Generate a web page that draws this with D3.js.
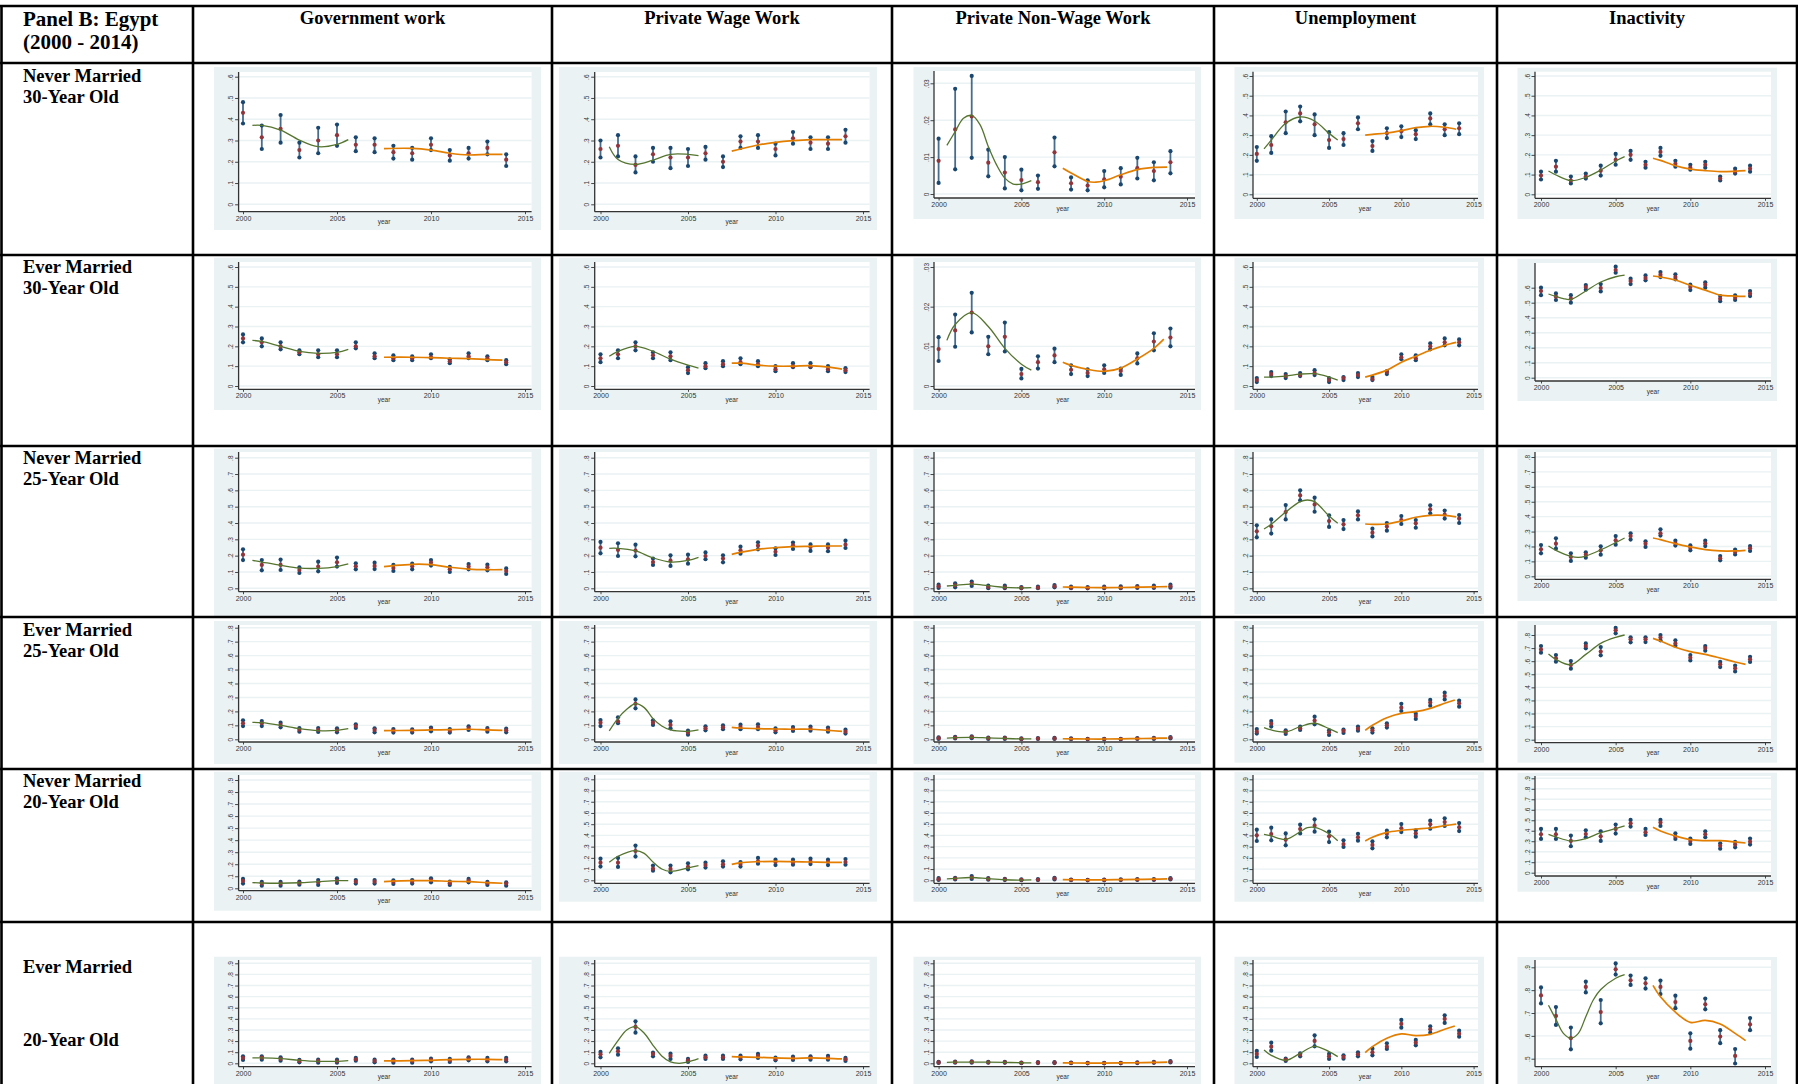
<!DOCTYPE html>
<html>
<head>
<meta charset="utf-8">
<script src="https://cdn.jsdelivr.net/npm/d3@7"></script>
<style>
body { margin: 0; background: #fff; }
svg { display: block; }
</style>
</head>
<body>
<svg id="chart" width="1798" height="1084"></svg>
<script>
// ---- labels ----
var colHeaders = ['Government work', 'Private Wage Work', 'Private Non-Wage Work', 'Unemployment', 'Inactivity'];
var rowLabels = [
    ['Never Married', '30-Year Old'],
    ['Ever Married', '30-Year Old'],
    ['Never Married', '25-Year Old'],
    ['Ever Married', '25-Year Old'],
    ['Never Married', '20-Year Old'],
    ['Ever Married', '20-Year Old']
];
var years = [2000, 2001, 2002, 2003, 2004, 2005, 2006, 2007, 2008, 2009, 2010, 2011, 2012, 2013, 2014];
var xTicks = [2000, 2005, 2010, 2015];
var yTicks06 = [0, .1, .2, .3, .4, .5, .6];
var yTicks003 = [0, .01, .02, .03];
var yTicks08 = [0, .1, .2, .3, .4, .5, .6, .7, .8];
var yTicks09 = [0, .1, .2, .3, .4, .5, .6, .7, .8, .9];
var yTicks59 = [.5, .6, .7, .8, .9];

// ---- data: [mean, lower, upper] per year; fits are [year, value] ----
// Never married, 30
var nm30Gov = [[.43,.38,.48],[.315,.26,.37],[.355,.29,.42],[.255,.22,.29],[.30,.24,.36],[.325,.275,.375],[.28,.25,.315],[.28,.245,.31],[.245,.215,.275],[.24,.21,.265],[.28,.255,.31],[.23,.205,.255],[.24,.215,.265],[.265,.235,.295],[.21,.18,.235]];
var nm30GovFit1 = [[2000.5,.371],[2001,.371],[2002,.349],[2003,.302],[2004,.271],[2005,.282],[2005.6,.304]];
var nm30GovFit2 = [[2007.5,.262],[2009,.263],[2010,.255],[2011,.24],[2012,.232],[2013,.235],[2013.8,.235]];
var nm30Pww = [[.26,.22,.30],[.275,.225,.325],[.185,.15,.225],[.235,.20,.265],[.22,.17,.265],[.22,.18,.26],[.24,.21,.27],[.20,.175,.225],[.295,.265,.32],[.295,.265,.325],[.26,.23,.285],[.31,.285,.34],[.29,.26,.315],[.285,.26,.315],[.32,.29,.35]];
var nm30PwwFit1 = [[2000.5,.271],[2001,.211],[2002,.188],[2003,.208],[2004,.235],[2005,.235],[2005.6,.229]];
var nm30PwwFit2 = [[2007.5,.25],[2008,.26],[2009,.279],[2010,.291],[2011,.299],[2012,.304],[2013,.304],[2013.8,.304]];
var nm30Pnw = [[.009,.003,.015],[.0175,.0067,.0285],[.021,.0098,.032],[.0085,.0048,.012],[.0058,.0015,.010],[.0038,.001,.0066],[.0032,.0014,.005],[.0113,.0075,.0153],[.0029,.0012,.0045],[.0023,.001,.0037],[.004,.0018,.0062],[.0047,.0026,.007],[.007,.0042,.0098],[.0062,.0037,.0086],[.0086,.0056,.0116]];
var nm30PnwFit1 = [[2000.5,.0132],[2001,.0169],[2001.5,.0205],[2002,.0213],[2002.5,.0188],[2003,.0129],[2003.5,.0079],[2004,.0043],[2004.5,.0027],[2005,.0027],[2005.6,.0036]];
var nm30PnwFit2 = [[2007.5,.007],[2008,.0057],[2009,.0034],[2009.5,.0032],[2010,.0036],[2011,.0052],[2012,.0066],[2013,.0072],[2013.8,.0073]];
var nm30Une = [[.205,.17,.24],[.25,.21,.295],[.365,.31,.42],[.41,.37,.445],[.355,.30,.405],[.275,.235,.315],[.28,.25,.31],[.36,.33,.39],[.245,.22,.27],[.31,.285,.335],[.32,.29,.345],[.305,.28,.325],[.385,.355,.41],[.33,.30,.355],[.335,.305,.36]];
var nm30UneFit1 = [[2000.5,.23],[2001,.275],[2002,.36],[2003,.392],[2004,.372],[2005,.309],[2005.6,.275]];
var nm30UneFit2 = [[2007.5,.30],[2008,.304],[2009,.311],[2010,.323],[2011,.338],[2012,.345],[2013,.34],[2013.8,.33]];
var nm30Ina = [[.095,.075,.115],[.14,.115,.17],[.07,.055,.09],[.09,.08,.105],[.12,.095,.145],[.175,.15,.205],[.20,.175,.22],[.15,.135,.165],[.215,.195,.235],[.155,.14,.17],[.135,.125,.15],[.15,.135,.165],[.08,.07,.09],[.115,.105,.13],[.13,.115,.145]];
var nm30InaFit1 = [[2000.5,.118],[2001,.098],[2002,.069],[2003,.086],[2004,.123],[2005,.169],[2005.6,.191]];
var nm30InaFit2 = [[2007.5,.183],[2008,.172],[2009,.145],[2010,.128],[2011,.12],[2012,.115],[2013,.117],[2013.7,.12]];

// Ever married, 30
var em30Gov = [[.24,.22,.26],[.22,.20,.24],[.20,.185,.22],[.17,.16,.18],[.16,.145,.18],[.16,.145,.18],[.20,.19,.22],[.15,.14,.165],[.14,.13,.155],[.14,.13,.15],[.145,.14,.16],[.125,.115,.135],[.15,.14,.165],[.14,.13,.15],[.12,.11,.13]];
var em30GovFit1 = [[2000.5,.23],[2001,.225],[2002,.20],[2003,.175],[2004,.165],[2005,.17],[2005.6,.185]];
var em30GovFit2 = [[2007.5,.145],[2009,.145],[2010,.143],[2011,.14],[2012,.138],[2013,.133],[2013.8,.13]];
var em30Pww = [[.14,.12,.16],[.16,.14,.18],[.20,.18,.22],[.155,.14,.17],[.15,.13,.17],[.08,.065,.095],[.10,.09,.115],[.11,.10,.125],[.12,.11,.14],[.11,.10,.125],[.085,.075,.10],[.10,.095,.115],[.10,.095,.115],[.085,.075,.10],[.08,.07,.09]];
var em30PwwFit1 = [[2000.5,.15],[2001,.175],[2002,.20],[2003,.175],[2004,.135],[2005,.105],[2005.6,.09]];
var em30PwwFit2 = [[2007.5,.115],[2008,.115],[2009,.105],[2010,.10],[2011,.10],[2012,.103],[2013,.095],[2013.8,.085]];
var em30Pnw = [[.0093,.0063,.0123],[.014,.0099,.018],[.0185,.0135,.0235],[.010,.008,.0124],[.0124,.0087,.016],[.003,.0019,.0043],[.006,.0044,.0075],[.0077,.006,.0094],[.0041,.003,.0052],[.0033,.0025,.0042],[.0042,.0033,.0052],[.0038,.0028,.0044],[.007,.0057,.0082],[.0112,.009,.0133],[.0122,.010,.0145]];
var em30PnwFit1 = [[2000.5,.0115],[2001,.0155],[2002,.0185],[2003,.015],[2004,.0095],[2005,.0055],[2005.6,.004]];
var em30PnwFit2 = [[2007.5,.006],[2008,.0052],[2009,.0042],[2010,.0037],[2011,.0045],[2012,.0068],[2013,.0095],[2013.6,.0118]];
var em30Une = [[.03,.02,.04],[.06,.05,.07],[.05,.04,.06],[.055,.05,.065],[.065,.055,.08],[.03,.02,.04],[.04,.03,.045],[.055,.045,.065],[.035,.03,.045],[.07,.06,.075],[.145,.135,.16],[.14,.13,.155],[.20,.185,.215],[.22,.205,.24],[.22,.205,.235]];
var em30UneFit1 = [[2000.5,.045],[2001,.045],[2002,.05],[2003,.06],[2004,.062],[2005,.045],[2005.6,.03]];
var em30UneFit2 = [[2007.5,.045],[2009,.08],[2010,.12],[2011,.15],[2012,.18],[2013,.205],[2013.8,.22]];
var em30Ina = [[.578,.55,.60],[.54,.518,.562],[.527,.50,.55],[.604,.587,.618],[.598,.575,.624],[.718,.70,.74],[.644,.624,.66],[.664,.649,.682],[.687,.671,.704],[.671,.656,.689],[.604,.584,.62],[.62,.60,.636],[.527,.51,.544],[.533,.518,.549],[.56,.544,.578]];
var em30InaFit1 = [[2000.5,.558],[2001,.542],[2001.5,.527],[2002,.522],[2003,.578],[2004,.638],[2005,.673],[2005.6,.684]];
var em30InaFit2 = [[2007.5,.678],[2008,.671],[2009,.651],[2010,.616],[2011,.584],[2012,.551],[2013,.544],[2013.7,.542]];

// Never married, 25
var nm25Gov = [[.206,.173,.239],[.143,.11,.173],[.143,.112,.176],[.112,.094,.129],[.133,.104,.163],[.159,.133,.188],[.135,.116,.153],[.137,.118,.157],[.124,.106,.143],[.135,.116,.151],[.157,.139,.173],[.116,.10,.131],[.133,.116,.149],[.129,.11,.145],[.106,.088,.122]];
var nm25GovFit1 = [[2000.5,.171],[2001,.161],[2002,.141],[2003,.124],[2004,.122],[2005,.133],[2005.6,.149]];
var nm25GovFit2 = [[2007.5,.133],[2008,.139],[2009,.147],[2010,.145],[2011,.129],[2012,.118],[2013,.114],[2013.8,.114]];
var nm25Pww = [[.249,.214,.284],[.235,.198,.276],[.231,.196,.267],[.161,.143,.182],[.169,.137,.202],[.178,.151,.206],[.198,.178,.22],[.182,.159,.202],[.233,.212,.255],[.261,.239,.282],[.224,.204,.245],[.263,.241,.28],[.253,.229,.269],[.249,.227,.269],[.267,.247,.292]];
var nm25PwwFit1 = [[2000.5,.245],[2001,.245],[2002,.229],[2003,.186],[2004,.161],[2005,.171],[2005.6,.19]];
var nm25PwwFit2 = [[2007.5,.208],[2008,.22],[2009,.239],[2010,.249],[2011,.255],[2012,.257],[2013,.259],[2013.8,.259]];
var nm25Pnw = [[.012,.002,.022],[.018,.006,.031],[.029,.014,.041],[.008,.001,.016],[.006,.001,.016],[.002,0,.008],[.004,.001,.01],[.012,.006,.02],[.004,.001,.01],[.002,0,.008],[.004,.001,.01],[.004,.001,.012],[.008,.002,.014],[.008,.002,.016],[.012,.004,.022]];
var nm25PnwFit1 = [[2000.5,.014],[2001,.018],[2002,.025],[2003,.016],[2004,.006],[2005,.003],[2005.6,.004]];
var nm25PnwFit2 = [[2007.5,.008],[2008,.007],[2009,.005],[2010,.004],[2011,.005],[2012,.007],[2013,.009],[2013.8,.01]];
var nm25Une = [[.349,.312,.386],[.38,.335,.422],[.467,.422,.51],[.569,.539,.60],[.514,.469,.555],[.412,.376,.447],[.392,.363,.418],[.447,.422,.471],[.341,.318,.365],[.378,.353,.40],[.418,.394,.443],[.398,.371,.418],[.484,.459,.508],[.451,.427,.476],[.427,.40,.449]];
var nm25UneFit1 = [[2000.5,.363],[2001,.392],[2002,.467],[2003,.531],[2003.5,.541],[2004,.531],[2005,.443],[2005.6,.398]];
var nm25UneFit2 = [[2007.5,.394],[2008,.392],[2009,.394],[2010,.412],[2011,.435],[2012,.447],[2013,.447],[2013.8,.437]];
var nm25Ina = [[.181,.154,.21],[.219,.185,.255],[.13,.103,.154],[.145,.125,.161],[.174,.145,.201],[.241,.212,.27],[.27,.246,.288],[.219,.197,.235],[.288,.273,.315],[.221,.206,.239],[.192,.174,.208],[.221,.203,.239],[.121,.107,.136],[.163,.147,.179],[.188,.17,.203]];
var nm25InaFit1 = [[2000.5,.203],[2001,.174],[2002,.134],[2002.5,.127],[2003,.136],[2004,.177],[2005,.226],[2005.6,.257]];
var nm25InaFit2 = [[2007.5,.257],[2008,.246],[2009,.219],[2010,.197],[2011,.179],[2012,.17],[2013,.17],[2013.7,.174]];

// Ever married, 25
var em25Gov = [[.115,.095,.136],[.115,.095,.131],[.103,.086,.119],[.069,.055,.081],[.067,.053,.081],[.064,.05,.079],[.095,.081,.107],[.067,.05,.079],[.062,.048,.074],[.062,.048,.072],[.072,.057,.084],[.062,.048,.074],[.081,.067,.093],[.069,.055,.081],[.064,.05,.076]];
var em25GovFit1 = [[2000.5,.122],[2001,.119],[2002,.10],[2003,.076],[2004,.062],[2005,.064],[2005.6,.076]];
var em25GovFit2 = [[2007.5,.062],[2009,.064],[2010,.067],[2011,.069],[2012,.072],[2013,.067],[2013.8,.064]];
var em25Pww = [[.119,.095,.138],[.129,.115,.158],[.255,.222,.286],[.119,.103,.136],[.103,.079,.129],[.048,.033,.062],[.079,.064,.093],[.086,.072,.10],[.088,.072,.105],[.088,.072,.107],[.064,.05,.079],[.074,.06,.088],[.076,.062,.091],[.069,.055,.084],[.055,.041,.069]];
var em25PwwFit1 = [[2000.5,.06],[2001,.15],[2001.5,.215],[2002,.255],[2002.5,.227],[2003,.148],[2003.5,.095],[2004,.067],[2005,.057],[2005.6,.067]];
var em25PwwFit2 = [[2007.5,.086],[2008,.081],[2009,.076],[2010,.074],[2011,.072],[2012,.072],[2013,.064],[2013.8,.057]];
var em25Pnw = [[.008,.002,.014],[.012,.006,.018],[.015,.008,.022],[.008,.003,.013],[.008,.003,.013],[.003,.001,.006],[.005,.002,.009],[.006,.002,.01],[.004,.001,.007],[.002,0,.004],[.002,0,.004],[.002,0,.004],[.005,.002,.009],[.007,.003,.011],[.011,.006,.016]];
var em25PnwFit1 = [[2000.5,.009],[2001,.012],[2002,.014],[2003,.01],[2004,.006],[2005,.003],[2005.6,.003]];
var em25PnwFit2 = [[2007.5,.004],[2009,.002],[2010,.002],[2011,.003],[2012,.005],[2013,.007],[2013.8,.009]];
var em25Une = [[.055,.041,.074],[.112,.091,.131],[.053,.038,.064],[.079,.067,.091],[.134,.107,.162],[.05,.031,.064],[.06,.045,.069],[.076,.062,.091],[.064,.048,.079],[.10,.084,.115],[.227,.203,.255],[.167,.146,.184],[.263,.241,.282],[.31,.286,.334],[.258,.234,.277]];
var em25UneFit1 = [[2000.5,.084],[2001,.067],[2002,.053],[2003,.091],[2004,.115],[2005,.076],[2005.6,.048]];
var em25UneFit2 = [[2007.5,.064],[2008,.10],[2009,.155],[2010,.186],[2011,.198],[2012,.222],[2013,.258],[2013.7,.282]];
var em25Ina = [[.69,.665,.716],[.622,.596,.647],[.571,.543,.601],[.716,.698,.736],[.673,.645,.708],[.836,.813,.854],[.767,.744,.782],[.767,.746,.782],[.78,.759,.80],[.736,.718,.759],[.627,.606,.647],[.70,.68,.716],[.576,.555,.594],[.545,.522,.566],[.614,.594,.634]];
var em25InaFit1 = [[2000.5,.655],[2001,.614],[2002,.573],[2003,.652],[2004,.736],[2005,.782],[2005.6,.80]];
var em25InaFit2 = [[2007.5,.774],[2008,.754],[2009,.706],[2010,.673],[2011,.652],[2012,.624],[2013,.594],[2013.7,.576]];

// Never married, 20
var nm20Gov = [[.061,.039,.078],[.039,.022,.053],[.039,.022,.053],[.044,.03,.055],[.05,.028,.069],[.064,.044,.083],[.055,.039,.069],[.055,.039,.069],[.053,.036,.066],[.055,.039,.069],[.066,.05,.083],[.042,.028,.055],[.064,.05,.078],[.042,.028,.053],[.039,.022,.05]];
var nm20GovFit1 = [[2000.5,.048],[2001,.044],[2002,.042],[2003,.046],[2004,.055],[2005,.063],[2005.6,.064]];
var nm20GovFit2 = [[2007.5,.055],[2009,.063],[2010,.064],[2011,.058],[2012,.055],[2013,.047],[2013.8,.042]];
var nm20Pww = [[.157,.122,.193],[.157,.119,.199],[.261,.211,.309],[.104,.086,.131],[.101,.071,.131],[.119,.098,.151],[.136,.113,.157],[.142,.122,.169],[.145,.122,.163],[.169,.148,.199],[.163,.136,.184],[.16,.139,.184],[.166,.145,.193],[.163,.136,.184],[.163,.139,.19]];
var nm20PwwFit1 = [[2000.5,.16],[2001,.214],[2002,.264],[2002.5,.24],[2003,.163],[2003.5,.101],[2004,.08],[2005,.11],[2005.6,.131]];
var nm20PwwFit2 = [[2007.5,.142],[2008,.157],[2009,.166],[2010,.169],[2011,.166],[2012,.163],[2013,.16],[2013.8,.16]];
var nm20Pnw = [[.01,.003,.02],[.015,.008,.022],[.025,.012,.038],[.012,.005,.02],[.008,.002,.014],[.004,.001,.008],[.005,.002,.01],[.015,.008,.022],[.004,.001,.007],[.002,0,.005],[.003,0,.007],[.005,.002,.009],[.007,.003,.011],[.007,.003,.011],[.013,.007,.019]];
var nm20PnwFit1 = [[2000.5,.012],[2001,.018],[2002,.025],[2003,.014],[2004,.005],[2005,.002],[2005.6,.003]];
var nm20PnwFit2 = [[2007.5,.006],[2009,.004],[2010,.004],[2011,.006],[2012,.008],[2013,.01],[2013.8,.012]];
var nm20Une = [[.401,.35,.451],[.412,.356,.469],[.362,.312,.418],[.457,.418,.496],[.487,.433,.543],[.392,.341,.433],[.323,.297,.356],[.383,.353,.415],[.315,.285,.347],[.415,.383,.442],[.463,.43,.501],[.418,.389,.445],[.499,.46,.531],[.519,.484,.552],[.472,.439,.51]];
var nm20UneFit1 = [[2000.5,.41],[2001,.395],[2002,.365],[2003,.433],[2003.5,.469],[2004,.472],[2005,.415],[2005.6,.353]];
var nm20UneFit2 = [[2007.5,.35],[2008,.383],[2009,.427],[2010,.445],[2011,.457],[2012,.466],[2013,.487],[2013.8,.501]];
var nm20Ina = [[.366,.322,.417],[.366,.322,.417],[.303,.252,.354],[.369,.338,.404],[.347,.303,.395],[.417,.373,.459],[.471,.44,.503],[.385,.36,.417],[.478,.446,.503],[.344,.322,.376],[.303,.274,.325],[.366,.338,.395],[.258,.229,.28],[.268,.242,.293],[.296,.268,.325]];
var nm20InaFit1 = [[2000.5,.366],[2001,.341],[2002,.303],[2003,.325],[2004,.382],[2005,.42],[2005.6,.446]];
var nm20InaFit2 = [[2007.5,.433],[2008,.398],[2009,.35],[2010,.315],[2011,.306],[2012,.306],[2013,.293],[2013.7,.283]];

// Ever married, 20
var em20Gov = [[.048,.03,.063],[.051,.033,.063],[.039,.024,.054],[.021,.009,.03],[.021,.006,.033],[.018,.006,.033],[.036,.024,.048],[.021,.009,.033],[.021,.006,.033],[.021,.006,.033],[.03,.018,.042],[.027,.012,.039],[.042,.027,.054],[.033,.018,.048],[.033,.018,.048]];
var em20GovFit1 = [[2000.5,.048],[2001,.048],[2002,.042],[2003,.027],[2004,.018],[2005,.018],[2005.6,.024]];
var em20GovFit2 = [[2007.5,.021],[2009,.024],[2010,.027],[2011,.033],[2012,.036],[2013,.036],[2013.8,.033]];
var em20Pww = [[.081,.054,.102],[.108,.078,.135],[.327,.276,.378],[.084,.063,.096],[.066,.039,.087],[.027,.012,.039],[.054,.039,.069],[.054,.039,.069],[.054,.036,.069],[.066,.048,.084],[.039,.027,.051],[.045,.03,.06],[.048,.033,.063],[.048,.033,.066],[.036,.021,.048]];
var em20PwwFit1 = [[2000.5,.09],[2001,.204],[2001.5,.30],[2002,.33],[2002.5,.27],[2003,.162],[2003.5,.066],[2004,.012],[2004.5,0],[2005,.012],[2005.6,.042]];
var em20PwwFit2 = [[2007.5,.06],[2008,.057],[2009,.054],[2010,.048],[2011,.045],[2012,.048],[2013,.045],[2013.8,.039]];
var em20Pnw = [[.008,.003,.013],[.01,.005,.015],[.012,.006,.018],[.009,.005,.013],[.009,.004,.014],[.004,.001,.007],[.006,.002,.01],[.006,.002,.01],[.004,.001,.007],[.002,0,.004],[.001,0,.003],[.002,0,.004],[.005,.002,.008],[.008,.004,.012],[.014,.008,.02]];
var em20PnwFit1 = [[2000.5,.009],[2001,.01],[2002,.011],[2003,.01],[2004,.008],[2005,.005],[2005.6,.004]];
var em20PnwFit2 = [[2007.5,.004],[2009,.002],[2010,.002],[2011,.003],[2012,.005],[2013,.008],[2013.8,.01]];
var em20Une = [[.084,.057,.111],[.15,.114,.186],[.033,.021,.042],[.078,.063,.09],[.201,.153,.252],[.063,.039,.084],[.057,.042,.072],[.081,.063,.099],[.099,.072,.132],[.15,.129,.18],[.354,.321,.39],[.186,.162,.21],[.306,.276,.333],[.399,.363,.432],[.267,.24,.294]];
var em20UneFit1 = [[2000.5,.12],[2001,.072],[2002,.027],[2003,.09],[2004,.153],[2005,.105],[2005.6,.06]];
var em20UneFit2 = [[2007.5,.096],[2008,.15],[2009,.225],[2010,.264],[2011,.249],[2012,.261],[2013,.306],[2013.7,.336]];
var em20Ina = [[.777,.742,.812],[.687,.648,.726],[.59,.541,.636],[.814,.79,.837],[.704,.655,.757],[.891,.868,.917],[.843,.823,.864],[.83,.807,.852],[.814,.783,.842],[.748,.721,.776],[.578,.544,.611],[.738,.716,.763],[.597,.568,.625],[.512,.479,.542],[.65,.625,.678]];
var em20InaFit1 = [[2000.5,.734],[2001,.672],[2001.5,.611],[2002,.59],[2002.5,.611],[2003,.684],[2003.5,.757],[2004,.803],[2005,.852],[2005.6,.868]];
var em20InaFit2 = [[2007.5,.821],[2008,.771],[2009,.704],[2010,.659],[2011,.668],[2012,.652],[2013,.611],[2013.7,.579]];

// ---- grid of panels, built from the arrays above ----
var panels = [
    [[nm30Gov, nm30GovFit1, nm30GovFit2, yTicks06], [nm30Pww, nm30PwwFit1, nm30PwwFit2, yTicks06], [nm30Pnw, nm30PnwFit1, nm30PnwFit2, yTicks003], [nm30Une, nm30UneFit1, nm30UneFit2, yTicks06], [nm30Ina, nm30InaFit1, nm30InaFit2, yTicks06]],
    [[em30Gov, em30GovFit1, em30GovFit2, yTicks06], [em30Pww, em30PwwFit1, em30PwwFit2, yTicks06], [em30Pnw, em30PnwFit1, em30PnwFit2, yTicks003], [em30Une, em30UneFit1, em30UneFit2, yTicks06], [em30Ina, em30InaFit1, em30InaFit2, yTicks06]],
    [[nm25Gov, nm25GovFit1, nm25GovFit2, yTicks08], [nm25Pww, nm25PwwFit1, nm25PwwFit2, yTicks08], [nm25Pnw, nm25PnwFit1, nm25PnwFit2, yTicks08], [nm25Une, nm25UneFit1, nm25UneFit2, yTicks08], [nm25Ina, nm25InaFit1, nm25InaFit2, yTicks08]],
    [[em25Gov, em25GovFit1, em25GovFit2, yTicks08], [em25Pww, em25PwwFit1, em25PwwFit2, yTicks08], [em25Pnw, em25PnwFit1, em25PnwFit2, yTicks08], [em25Une, em25UneFit1, em25UneFit2, yTicks08], [em25Ina, em25InaFit1, em25InaFit2, yTicks08]],
    [[nm20Gov, nm20GovFit1, nm20GovFit2, yTicks09], [nm20Pww, nm20PwwFit1, nm20PwwFit2, yTicks09], [nm20Pnw, nm20PnwFit1, nm20PnwFit2, yTicks09], [nm20Une, nm20UneFit1, nm20UneFit2, yTicks09], [nm20Ina, nm20InaFit1, nm20InaFit2, yTicks09]],
    [[em20Gov, em20GovFit1, em20GovFit2, yTicks09], [em20Pww, em20PwwFit1, em20PwwFit2, yTicks09], [em20Pnw, em20PnwFit1, em20PnwFit2, yTicks09], [em20Une, em20UneFit1, em20UneFit2, yTicks09], [em20Ina, em20InaFit1, em20InaFit2, yTicks59]]
];

// ---- layout ----
var W = 1798, H = 1084;
var colBorders = [1.5, 193, 552, 892, 1214, 1497, 1797];
var rowBorders = [6, 63, 255, 446, 617, 769, 922];
var rowLabelBase = [81.7, 273, 463.5, 635.5, 787, 973];

// horizontal geometry of a panel in each column
var colGeom = [
    {bx0: 214, bx1: 541, ax: 238.6, x0: 243, x1: 525, wr: 531.6},
    {bx0: 559, bx1: 877, ax: 594.7, x0: 600.5, x1: 863, wr: 869.6},
    {bx0: 913.5, bx1: 1201, ax: 934, x0: 938.6, x1: 1187, wr: 1195},
    {bx0: 1234.5, bx1: 1484, ax: 1253, x0: 1256.8, x1: 1473.6, wr: 1478},
    {bx0: 1517.5, bx1: 1777, ax: 1535, x0: 1541, x1: 1765, wr: 1771}
];

// vertical geometry: bg top/bottom, plot top, x-axis, pixel of first tick, pixel of last tick
function rg(by0, by1, wt, xa, yb, yt) {
    return {by0: by0, by1: by1, wt: wt, xa: xa, yb: yb, yt: yt};
}
var rowGeom = [
    [rg(67, 230, 72, 211.7, 204.3, 76.7), rg(67, 230, 72, 211.7, 204.3, 76.7), rg(67, 219, 71, 198, 194, 83.3), rg(67, 219, 71.7, 198.3, 194.3, 76), rg(67.7, 219, 71.7, 198.3, 194.3, 76)],
    [rg(257.7, 410, 262, 389.3, 386, 267), rg(257.7, 410, 262, 389.3, 386, 267), rg(257.7, 410, 262, 389.3, 386, 267), rg(257.7, 410, 262, 389.3, 386, 267), rg(258.7, 401, 263, 381, 377.7, 287.7)],
    [rg(448.7, 616, 452, 591.7, 588.3, 457.7), rg(448.7, 616, 452, 591.7, 588.3, 457.7), rg(448.7, 616, 452, 591.7, 588.3, 457.7), rg(448.7, 614, 452, 591.7, 588.3, 457.7), rg(448.7, 601, 452, 579.3, 576.3, 457)],
    [rg(621, 764, 625, 742, 739.3, 627.7), rg(621, 764, 625, 742, 739.3, 627.7), rg(621, 764, 625, 742, 739.3, 627.7), rg(621, 762.7, 625, 742, 739.3, 627.7), rg(621, 762.7, 625, 742.7, 739.7, 635)],
    [rg(771.7, 910.7, 775, 890.7, 888.3, 780), rg(771.7, 901.7, 775, 883.3, 880.3, 779.3), rg(771.7, 901.7, 775, 883.3, 880.3, 779.3), rg(771.7, 901.7, 775, 883.3, 880.3, 779.3), rg(772.7, 891.7, 776, 876, 872.7, 778.3)],
    [rg(956.7, 1090, 960, 1066.7, 1063.3, 963.3), rg(956.7, 1090, 960, 1066.7, 1063.3, 963.3), rg(956.7, 1090, 960, 1066.7, 1063.3, 963.3), rg(956.7, 1090, 960, 1066.7, 1063.3, 963.3), rg(957, 1090, 960, 1066.7, 1058.7, 967.3)]
];

var NAVY = '#1a476f', MAROON = '#90353b', GREEN = '#55752f', ORANGE = '#e37e00';
var BG = '#eaf2f3';
var SERIF = '"Liberation Serif", "Times New Roman", serif';
var SANS = '"Liberation Sans", Arial, sans-serif';

var svg = d3.select('#chart');

function fmtTick(v) {
    if(v === 0) return '0';
    return d3.format('.2~f')(v).replace(/^0\./, '.');
}

function drawPanel(g, pts, fit1, fit2, yTicks, cg, rgm) {
    var x = d3.scaleLinear().domain([2000, 2015]).range([cg.x0, cg.x1]);
    var y = d3.scaleLinear().domain([yTicks[0], yTicks[yTicks.length - 1]]).range([rgm.yb, rgm.yt]);

    g.append('rect')
        .attr('x', cg.bx0).attr('y', rgm.by0)
        .attr('width', cg.bx1 - cg.bx0).attr('height', rgm.by1 - rgm.by0)
        .attr('fill', BG);

    g.append('rect')
        .attr('x', cg.ax).attr('y', rgm.wt)
        .attr('width', cg.wr - cg.ax).attr('height', rgm.xa - rgm.wt)
        .attr('fill', '#fff');

    // gridlines
    g.selectAll('line.grid').data(yTicks).enter().append('line')
        .attr('class', 'grid')
        .attr('x1', cg.ax).attr('x2', cg.wr)
        .attr('y1', function(d) { return y(d); })
        .attr('y2', function(d) { return y(d); })
        .attr('stroke', BG).attr('stroke-width', 1.4);

    // y axis
    var yAxis = d3.axisLeft(y).tickValues(yTicks).tickSize(3.5).tickSizeOuter(0).tickFormat(fmtTick);
    var yg = g.append('g').attr('transform', 'translate(' + cg.ax + ',0)').call(yAxis);
    yg.select('.domain').remove();
    yg.attr('font-family', SANS).attr('font-size', 6.5);
    yg.selectAll('line').attr('stroke', '#333').attr('stroke-width', 0.9);
    yg.selectAll('text')
        .attr('x', null).attr('dy', null)
        .attr('fill', '#333')
        .attr('text-anchor', 'middle')
        .attr('transform', 'translate(-5.5,0) rotate(-90)');

    // x axis
    var xAxis = d3.axisBottom(x).tickValues(xTicks).tickSize(2.5).tickPadding(1.5).tickSizeOuter(0).tickFormat(d3.format('d'));
    var xg = g.append('g').attr('transform', 'translate(0,' + rgm.xa + ')').call(xAxis);
    xg.select('.domain').remove();
    xg.attr('font-family', SANS).attr('font-size', 7);
    xg.selectAll('line').attr('stroke', '#333').attr('stroke-width', 0.9);
    xg.selectAll('text').attr('fill', '#333');

    g.append('line')
        .attr('x1', cg.ax).attr('x2', cg.ax)
        .attr('y1', rgm.wt).attr('y2', rgm.xa)
        .attr('stroke', '#333').attr('stroke-width', 1.3);
    g.append('line')
        .attr('x1', cg.ax).attr('x2', cg.wr)
        .attr('y1', rgm.xa).attr('y2', rgm.xa)
        .attr('stroke', '#333').attr('stroke-width', 1.3);

    g.append('text')
        .attr('x', (cg.x0 + cg.x1) / 2).attr('y', rgm.xa + 12.5)
        .attr('text-anchor', 'middle')
        .attr('font-family', SANS).attr('font-size', 6.5)
        .attr('fill', '#333')
        .text('year');

    // confidence intervals
    var ci = g.append('g');
    ci.selectAll('line').data(pts).enter().append('line')
        .attr('x1', function(d, i) { return x(years[i]); })
        .attr('x2', function(d, i) { return x(years[i]); })
        .attr('y1', function(d) { return y(d[1]); })
        .attr('y2', function(d) { return y(d[2]); })
        .attr('stroke', NAVY).attr('stroke-opacity', 0.8).attr('stroke-width', 1.8);
    [1, 2].forEach(function(k) {
        ci.selectAll('circle.e' + k).data(pts).enter().append('circle')
            .attr('class', 'e' + k)
            .attr('cx', function(d, i) { return x(years[i]); })
            .attr('cy', function(d) { return y(d[k]); })
            .attr('r', 2.1)
            .attr('fill', NAVY);
    });

    // smoothed fits
    var line = d3.line()
        .x(function(d) { return x(d[0]); })
        .y(function(d) { return y(d[1]); })
        .curve(d3.curveCatmullRom.alpha(0.5));
    g.append('path').attr('d', line(fit1))
        .attr('fill', 'none').attr('stroke', GREEN).attr('stroke-width', 1.3);
    g.append('path').attr('d', line(fit2))
        .attr('fill', 'none').attr('stroke', ORANGE).attr('stroke-width', 1.7);

    // means
    ci.selectAll('circle.m').data(pts).enter().append('circle')
        .attr('class', 'm')
        .attr('cx', function(d, i) { return x(years[i]); })
        .attr('cy', function(d) { return y(d[0]); })
        .attr('r', 2.1)
        .attr('fill', MAROON);
}

panels.forEach(function(row, r) {
    row.forEach(function(p, c) {
        var g = svg.append('g').attr('class', 'panel');
        drawPanel(g, p[0], p[1], p[2], p[3], colGeom[c], rowGeom[r][c]);
    });
});

// ---- table text ----
var txt = svg.append('g')
    .attr('font-family', SERIF)
    .attr('font-weight', 'bold')
    .attr('fill', '#000');

txt.append('text').attr('x', 23).attr('y', 26).attr('font-size', 21).text('Panel B: Egypt');
txt.append('text').attr('x', 23).attr('y', 48.5).attr('font-size', 21).text('(2000 - 2014)');

txt.selectAll('text.colhead').data(colHeaders).enter().append('text')
    .attr('class', 'colhead')
    .attr('x', function(d, i) { return (colBorders[i + 1] + colBorders[i + 2]) / 2; })
    .attr('y', 24)
    .attr('text-anchor', 'middle')
    .attr('font-size', 18.5)
    .text(function(d) { return d; });

rowLabels.forEach(function(lbl, r) {
    var b = rowLabelBase[r];
    var gap = (r === rowLabels.length - 1) ? 73 : 21;
    txt.append('text').attr('x', 23).attr('y', b).attr('font-size', 18.5).text(lbl[0]);
    txt.append('text').attr('x', 23).attr('y', b + gap).attr('font-size', 18.5).text(lbl[1]);
});

// ---- table rules ----
var rules = svg.append('g').attr('stroke', '#000').attr('stroke-width', 2.6);
rules.selectAll('line.h').data(rowBorders).enter().append('line')
    .attr('class', 'h')
    .attr('x1', 0).attr('x2', W)
    .attr('y1', function(d) { return d; }).attr('y2', function(d) { return d; });
rules.selectAll('line.v').data(colBorders).enter().append('line')
    .attr('class', 'v')
    .attr('x1', function(d) { return d; }).attr('x2', function(d) { return d; })
    .attr('y1', rowBorders[0]).attr('y2', H);
</script>
</body>
</html>
